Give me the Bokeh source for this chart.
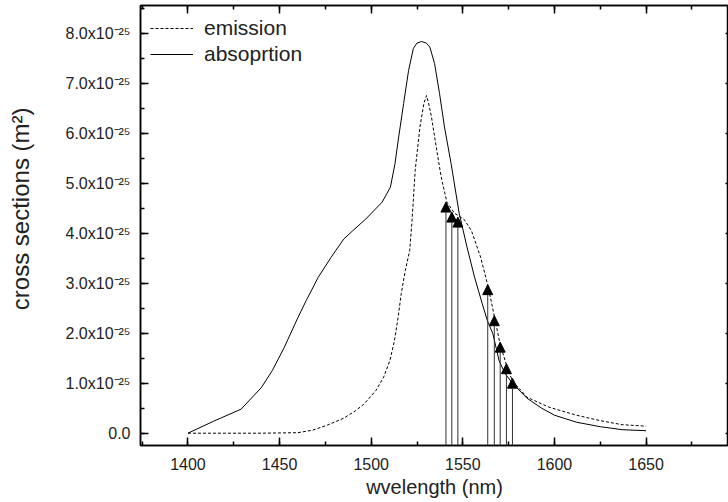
from bokeh.plotting import figure
from bokeh.models import (LinearAxis, SingleIntervalTicker, Range1d, Arrow,
                          NormalHead, ColumnDataSource)
from bokeh.embed import file_html
from bokeh.resources import INLINE

# ---- data (cross sections in units of 1e-25 m^2) ----
abs_wl = [1400, 1414, 1429, 1440, 1446, 1452.5, 1460, 1464.5, 1471, 1478, 1485,
          1490, 1497, 1506, 1510.5, 1513, 1515, 1517.7, 1520.4, 1523, 1525,
          1527.5, 1530, 1532, 1534.6, 1537.3, 1540, 1543.6, 1548, 1552.3,
          1556.4, 1560.6, 1563.4, 1566.4, 1569.8, 1573.1, 1577.3, 1585, 1593,
          1600, 1612, 1625, 1637, 1650]
abs_val = [0, 0.24, 0.48, 0.91, 1.25, 1.71, 2.31, 2.65, 3.11, 3.51, 3.88,
           4.05, 4.28, 4.62, 4.92, 5.39, 5.92, 6.59, 7.25, 7.69, 7.80,
           7.83, 7.80, 7.72, 7.39, 6.79, 6.12, 5.39, 4.40, 3.72,
           3.12, 2.59, 2.25, 1.99, 1.45, 1.19, 0.99, 0.70, 0.50,
           0.36, 0.22, 0.13, 0.07, 0.05]

em_wl = [1400, 1420, 1440, 1460, 1468, 1476, 1485, 1491.5, 1496, 1502.5,
         1506.8, 1510.2, 1512.7, 1514.7, 1516.4, 1518.6, 1521, 1522.3, 1524,
         1526.6, 1528.8, 1530.2, 1531.3, 1532.9, 1535.5, 1538.2, 1541.3,
         1545.4, 1550.8, 1554.7, 1559.7, 1563.9, 1567.3, 1570.3, 1573.6, 1577,
         1585, 1597, 1612, 1625, 1637, 1650]
em_val = [0, 0, 0, 0.01, 0.06, 0.16, 0.30, 0.45, 0.58, 0.85,
          1.12, 1.45, 1.85, 2.32, 2.79, 3.25, 3.65, 4.25, 5.25,
          6.12, 6.60, 6.75, 6.60, 6.32, 5.72, 5.12, 4.62,
          4.40, 4.27, 4.05, 3.52, 2.92, 2.32, 1.79, 1.39, 1.05,
          0.72, 0.52, 0.36, 0.25, 0.17, 0.14]

arrow_wl = [1540.8, 1544.0, 1547.3, 1563.6, 1567.2, 1570.4, 1573.8, 1577.1]
arrow_top = [4.62, 4.42, 4.32, 2.97, 2.35, 1.82, 1.39, 1.10]

x_ticks = [1400, 1450, 1500, 1550, 1600, 1650]
y_ticks = [0, 1, 2, 3, 4, 5, 6, 7, 8]
y_tick_labels = ["0.0", "1.0x10⁻²⁵", "2.0x10⁻²⁵", "3.0x10⁻²⁵",
                 "4.0x10⁻²⁵", "5.0x10⁻²⁵", "6.0x10⁻²⁵", "7.0x10⁻²⁵",
                 "8.0x10⁻²⁵"]

FONT = "Liberation Sans"
Y0, Y1 = -0.246, 8.55

p = figure(width=728, height=502, x_range=Range1d(1374.1, 1695.0),
           y_range=Range1d(Y0, Y1), output_backend="svg",
           toolbar_location=None, min_border_left=140, min_border_right=0,
           min_border_top=5, min_border_bottom=57)
p.xgrid.grid_line_color = None
p.ygrid.grid_line_color = None
p.outline_line_color = "black"
p.outline_line_width = 1.5
p.background_fill_color = "white"
p.border_fill_color = "white"

xt = SingleIntervalTicker(interval=50, num_minor_ticks=2)
yt = SingleIntervalTicker(interval=1, num_minor_ticks=2)

def style(ax):
    ax.axis_line_color = "black"
    ax.axis_line_width = 1.5
    ax.major_tick_line_width = 1.5
    ax.minor_tick_line_width = 1.5
    ax.major_tick_in = 8
    ax.major_tick_out = 0
    ax.minor_tick_in = 4
    ax.minor_tick_out = 0
    ax.major_label_text_font = FONT
    ax.major_label_text_font_size = "16px"
    ax.major_label_text_color = "#222222"
    ax.axis_label_text_font = FONT
    ax.axis_label_text_font_size = "20px"
    ax.axis_label_text_font_style = "normal"
    ax.axis_label_text_color = "#222222"

xa = p.xaxis[0]
xa.ticker = xt
style(xa)
xa.axis_label = "wvelength (nm)"
xa.major_label_standoff = 12
xa.axis_label_standoff = 3

ya = p.yaxis[0]
ya.ticker = yt
style(ya)
ya.axis_label = "\u00a0" * 5 + "cross sections (m²)"
ya.axis_label_text_font_size = "24px"
ya.major_label_overrides = {t: lab for t, lab in zip(y_ticks, y_tick_labels)}
ya.major_label_standoff = 10
ya.axis_label_standoff = 29

top = LinearAxis(ticker=xt)
style(top)
top.major_label_overrides = {t: "" for t in x_ticks}
top.major_label_text_font_size = "1px"
top.major_label_standoff = 0
p.add_layout(top, "above")

right = LinearAxis(ticker=yt)
style(right)
right.major_tick_in = 3
right.minor_tick_in = 0
right.major_label_overrides = {t: "" for t in y_ticks}
right.major_label_text_font_size = "1px"
right.major_label_standoff = 0
p.add_layout(right, "right")

p.line(em_wl, em_val, line_color="black", line_width=1, line_dash="3 2",
       legend_label="emission")
p.line(abs_wl, abs_val, line_color="black", line_width=1,
       legend_label="absoprtion")

src = ColumnDataSource(dict(x0=arrow_wl, y0=[Y0] * len(arrow_wl),
                            x1=arrow_wl, y1=arrow_top))
p.add_layout(Arrow(end=NormalHead(size=10, fill_color="black",
                                  line_color="black", line_width=1),
                   x_start="x0", y_start="y0", x_end="x1", y_end="y1",
                   source=src, line_color="#333333", line_width=1))

lg = p.legend[0]
lg.location = "top_left"
lg.background_fill_alpha = 0
lg.border_line_alpha = 0
lg.label_text_font = FONT
lg.label_text_font_size = "21px"
lg.label_text_color = "#222222"
lg.glyph_width = 43
lg.glyph_height = 26
lg.label_height = 26
lg.label_standoff = 11
lg.spacing = 0
lg.padding = 9
lg.margin = 1

open("out.html", "w").write(file_html(p, INLINE))
